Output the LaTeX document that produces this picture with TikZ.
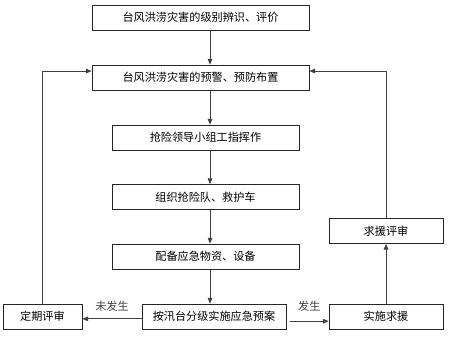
\documentclass[tikz,border=0pt]{standalone}
\usepackage{fontspec}
\newfontfamily\cjk{Noto Sans CJK SC}
\usetikzlibrary{positioning, arrows.meta}

\begin{document}
\begin{tikzpicture}[
    x=0.03cm, y=-0.03cm,
    box/.style={rectangle, draw=black!85, line width=0.6pt, inner sep=0pt, minimum height=0.75cm, font=\cjk\fontsize{9.5}{11}\selectfont},
    wide_box/.style={box, minimum width=6.51cm},
    mid_box/.style={box, minimum width=5.61cm},
    flow/.style={-{Triangle[length=5pt, width=4pt]}, line width=0.6pt, black!75},
    label_node/.style={font=\cjk\fontsize{9.5}{11}\selectfont}
]

  \useasboundingbox (0,0) rectangle (450,336);

  % --- Main chain ---
  \node[wide_box] (assess)  at (200.5, 17.5)  {台风洪涝灾害的级别辨识、评价};
  \node[wide_box] (warn)    at (200.5, 77.5)  {台风洪涝灾害的预警、预防布置};
  \node[mid_box]  (lead)    at (205.5, 137.5) {抢险领导小组工指挥作};
  \node[mid_box]  (team)    at (205.5, 197)   {组织抢险队、救护车};
  \node[mid_box]  (supply)  at (205.5, 256.5) {配备应急物资、设备};
  \node[box, minimum width=4.32cm] (plan) at (214, 316.5) {按汛台分级实施应急预案};

  % --- Side boxes ---
  \node[box, minimum width=2.37cm] (review) at (42.5, 316.5) {定期评审};
  \node[box, minimum width=3.42cm] (rescue) at (386, 316.5)  {实施求援};
  \node[box, minimum width=3.42cm] (rreview) at (386, 231)   {求援评审};

  \coordinate (spine) at (210, 0);

  % --- Vertical flow ---
  \draw[flow] (assess.south -| spine) -- (warn.north -| spine);
  \draw[flow] (warn.south -| spine)   -- (lead.north -| spine);
  \draw[flow] (lead.south -| spine)   -- (team.north -| spine);
  \draw[flow] (team.south -| spine)   -- (supply.north -| spine);
  \draw[flow] (supply.south -| spine) -- (plan.north -| spine);

  % --- Branches ---
  \draw[flow] ([yshift=-2pt]plan.west) -- node[label_node, above=3pt] (no_event) {未发生} ([yshift=-2pt]review.east);
  \draw[flow] ([xshift=3pt, yshift=-4pt]plan.east) -- node[label_node, above=5pt] (event) {发生} ([yshift=-4pt]rescue.west);
  \draw[flow] (rescue.north -| rreview) -- (rreview.south);

  % --- Feedback loops ---
  \draw[flow] (review.north) |- ([yshift=5.5pt]warn.west);
  \draw[flow] (rreview.north) |- ([yshift=5.5pt]warn.east);

\end{tikzpicture}
\end{document}
